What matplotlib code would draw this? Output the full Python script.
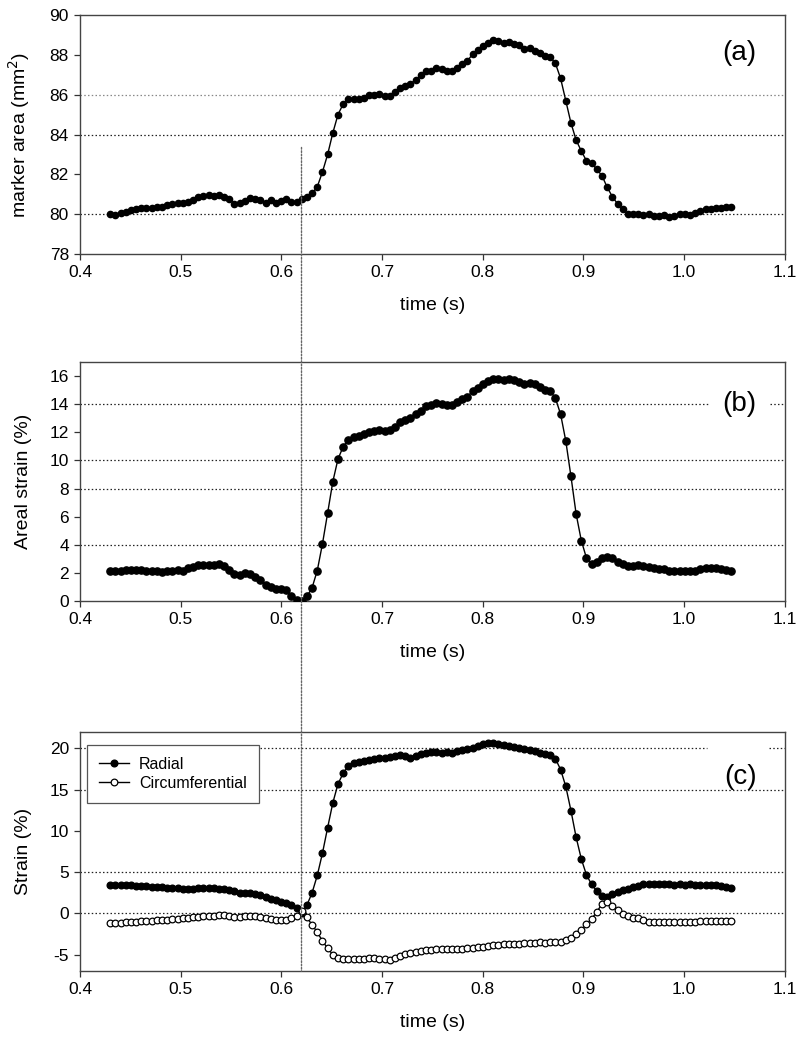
import numpy as np
import matplotlib
matplotlib.use("Agg")
import matplotlib.pyplot as plt
from matplotlib.patches import ConnectionPatch

plt.rcParams['font.family'] = ['Liberation Sans', 'DejaVu Sans']
plt.rcParams['axes.unicode_minus'] = False

# marker area (mm^2), panel (a)
area = [80.0, 79.97, 80.05, 80.1, 80.2, 80.27, 80.3, 80.33, 80.33, 80.38,
        80.37, 80.45, 80.52, 80.58, 80.55, 80.63, 80.72, 80.88, 80.9, 80.95,
        80.93, 80.97, 80.88, 80.75, 80.53, 80.57, 80.68, 80.8, 80.75, 80.73,
        80.58, 80.72, 80.58, 80.68, 80.75, 80.62, 80.63, 80.75, 80.88, 81.05,
        81.38, 82.12, 83.0, 84.08, 85.0, 85.53, 85.77, 85.8, 85.8, 85.85,
        86.0, 86.0, 86.02, 85.92, 85.93, 86.13, 86.33, 86.42, 86.55, 86.75,
        86.97, 87.2, 87.2, 87.32, 87.27, 87.2, 87.2, 87.35, 87.52, 87.7,
        88.03, 88.25, 88.43, 88.6, 88.73, 88.67, 88.6, 88.63, 88.55, 88.47,
        88.27, 88.33, 88.18, 88.1, 87.93, 87.9, 87.57, 86.82, 85.7, 84.58,
        83.72, 83.17, 82.68, 82.55, 82.25, 81.93, 81.35, 80.88, 80.52, 80.27,
        80.0, 80.02, 80.02, 79.97, 80.0, 79.92, 79.92, 79.95, 79.85, 79.93,
        80.0, 80.02, 79.98, 80.05, 80.17, 80.27, 80.27, 80.32, 80.33, 80.38, 80.38]

# areal strain (%), panel (b)
areal = [2.13, 2.15, 2.17, 2.2, 2.2, 2.22, 2.2, 2.17, 2.13, 2.13,
         2.08, 2.13, 2.15, 2.22, 2.17, 2.32, 2.39, 2.53, 2.55, 2.58,
         2.58, 2.6, 2.46, 2.22, 1.89, 1.87, 2.01, 1.89, 1.7, 1.51,
         1.13, 1.02, 0.87, 0.85, 0.76, 0.35, 0.08, 0.0, 0.33, 0.95,
         2.17, 4.07, 6.26, 8.49, 10.1, 10.97, 11.47, 11.63, 11.73, 11.87,
         12.03, 12.1, 12.15, 12.1, 12.15, 12.39, 12.7, 12.86, 13.05, 13.29,
         13.52, 13.88, 13.95, 14.11, 14.0, 13.95, 13.95, 14.16, 14.35, 14.52,
         14.94, 15.18, 15.41, 15.65, 15.82, 15.77, 15.72, 15.82, 15.72, 15.6,
         15.41, 15.53, 15.41, 15.25, 15.01, 14.94, 14.42, 13.29, 11.39, 8.87,
         6.19, 4.3, 3.05, 2.65, 2.81, 3.05, 3.12, 3.05, 2.81, 2.65,
         2.46, 2.51, 2.58, 2.51, 2.41, 2.34, 2.25, 2.29, 2.17, 2.17,
         2.17, 2.15, 2.1, 2.17, 2.27, 2.34, 2.32, 2.34, 2.27, 2.22, 2.13]

# radial / circumferential strain (%), panel (c)
radial = [3.43, 3.47, 3.45, 3.4, 3.38, 3.35, 3.3, 3.28, 3.25, 3.2,
          3.15, 3.1, 3.05, 3.05, 3.0, 2.98, 2.95, 3.05, 3.1, 3.1,
          3.08, 3.0, 2.9, 2.8, 2.65, 2.5, 2.45, 2.45, 2.35, 2.2,
          2.0, 1.8, 1.6, 1.4, 1.3, 1.0, 0.6, 0.1, 1.0, 2.5,
          4.6, 7.3, 10.4, 13.4, 15.7, 17.0, 17.9, 18.3, 18.4, 18.43,
          18.6, 18.7, 18.83, 18.9, 18.95, 19.1, 19.2, 19.07, 18.9, 19.1,
          19.3, 19.5, 19.55, 19.55, 19.5, 19.55, 19.5, 19.64, 19.8, 19.88,
          20.12, 20.32, 20.52, 20.65, 20.65, 20.52, 20.44, 20.36, 20.24, 20.12,
          19.96, 19.8, 19.64, 19.48, 19.35, 19.23, 18.75, 17.45, 15.4, 12.46,
          9.23, 6.6, 4.65, 3.5, 2.7, 2.1, 1.98, 2.38, 2.62, 2.78,
          2.98, 3.18, 3.3, 3.5, 3.59, 3.59, 3.59, 3.5, 3.5, 3.43,
          3.5, 3.43, 3.5, 3.47, 3.43, 3.47, 3.43, 3.39, 3.35, 3.23, 3.1]

circ = [-1.21, -1.17, -1.15, -1.1, -1.05, -1.0, -0.97, -0.93, -0.9, -0.85,
        -0.82, -0.78, -0.72, -0.68, -0.62, -0.55, -0.5, -0.42, -0.35, -0.3,
        -0.28, -0.25, -0.22, -0.28, -0.4, -0.48, -0.38, -0.35, -0.38, -0.45,
        -0.6, -0.72, -0.85, -0.78, -0.8, -0.6, -0.3, 0.3, -0.5, -1.4,
        -2.3, -3.35, -4.25, -5.0, -5.36, -5.48, -5.48, -5.52, -5.48, -5.48,
        -5.44, -5.44, -5.48, -5.52, -5.6, -5.36, -5.16, -4.96, -4.8, -4.68,
        -4.56, -4.48, -4.4, -4.31, -4.31, -4.31, -4.35, -4.31, -4.27, -4.19,
        -4.15, -4.11, -4.03, -3.95, -3.87, -3.79, -3.75, -3.71, -3.67, -3.67,
        -3.63, -3.59, -3.55, -3.51, -3.55, -3.51, -3.51, -3.45, -3.25, -2.95,
        -2.5, -2.0, -1.33, -0.65, 0.16, 1.17, 1.41, 0.89, 0.36, -0.04,
        -0.32, -0.52, -0.6, -0.85, -1.0, -1.05, -1.05, -1.09, -1.09, -1.09,
        -1.09, -1.05, -1.05, -1.0, -0.97, -0.93, -0.93, -0.89, -0.89, -0.89, -0.93]

# samples are evenly spaced in time
t = np.linspace(0.43, 1.047, len(area))
t_mark = 0.62

xticks = [0.4, 0.5, 0.6, 0.7, 0.8, 0.9, 1.0, 1.1]

fig = plt.figure(figsize=(8, 10.42), dpi=100)
left, width, height = 0.1, 0.881, 0.2294
ax_a = fig.add_axes([left, 0.7562, width, height])
ax_b = fig.add_axes([left, 0.4232, width, height])
ax_c = fig.add_axes([left, 0.0681, width, height])

grid_kw = dict(color='#222222', lw=0.9, ls=(0, (1.2, 1.8)), zorder=1)


def style(ax, ylim, yticks, ylabel):
    ax.set_xlim(0.4, 1.1)
    ax.set_ylim(*ylim)
    ax.set_xticks(xticks)
    ax.set_xticklabels(['%.1f' % v for v in xticks])
    ax.set_yticks(yticks)
    ax.tick_params(direction='out', length=4, width=0.9, labelsize=12.5,
                   color='#333333', pad=4)
    for s in ax.spines.values():
        s.set_color('#444444')
        s.set_linewidth(1.0)
    ax.set_xlabel('time (s)', fontsize=14, labelpad=12)
    ax.set_ylabel(ylabel, fontsize=14)
    ax.yaxis.set_label_coords(-0.068, 0.5)


# (a)
for g in [80, 84]:
    ax_a.axhline(g, **grid_kw)
ax_a.axhline(86, color='#888888', lw=0.9, ls=(0, (1.2, 1.8)), zorder=1)
ax_a.plot(t, area, '-o', color='black', lw=1.0, ms=4.5, zorder=3)
style(ax_a, (78, 90), [78, 80, 82, 84, 86, 88, 90], 'marker area (mm$^2$)')
ax_a.text(0.96, 0.84, '(a)', transform=ax_a.transAxes, fontsize=20,
          ha='right', va='center')

# (b)  - the 14 % line is broken behind the panel label
for g in [4, 8, 10]:
    ax_b.axhline(g, **grid_kw)
ax_b.axhline(14, xmax=0.894, **grid_kw)
ax_b.axhline(14, xmin=0.979, **grid_kw)
ax_b.plot(t, areal, '-o', color='black', lw=1.0, ms=5.2, zorder=3)
style(ax_b, (0, 17), [0, 2, 4, 6, 8, 10, 12, 14, 16], 'Areal strain (%)')
ax_b.text(0.96, 0.825, '(b)', transform=ax_b.transAxes, fontsize=20,
          ha='right', va='center', zorder=4)

# (c)
for g in [0, 5, 15]:
    ax_c.axhline(g, **grid_kw)
ax_c.axhline(20, xmax=0.889, **grid_kw)
ax_c.axhline(20, xmin=0.977, **grid_kw)
ax_c.plot(t, radial, '-o', color='black', lw=1.0, ms=4.8, zorder=3,
          label='Radial')
ax_c.plot(t, circ, '-o', color='black', lw=1.0, ms=4.8, mfc='white',
          mec='black', mew=0.9, zorder=3, label='Circumferential')
style(ax_c, (-7, 22), [-5, 0, 5, 10, 15, 20], 'Strain (%)')
ax_c.text(0.96, 0.81, '(c)', transform=ax_c.transAxes, fontsize=20,
          ha='right', va='center', zorder=4)
leg = ax_c.legend(loc='upper left', bbox_to_anchor=(0.01, 0.946),
                  borderaxespad=0, frameon=True, fancybox=False, framealpha=1,
                  edgecolor='#555555', handlelength=1.9, handletextpad=0.6,
                  borderpad=0.75, labelspacing=0.25, fontsize=11.5)
leg.get_frame().set_linewidth(0.9)

# vertical marker line running through all panels
con = ConnectionPatch(xyA=(t_mark, 83.35), coordsA=ax_a.transData,
                      xyB=(t_mark, -7), coordsB=ax_c.transData,
                      color='#666666', lw=1.0, ls=(0, (1.2, 1.2)), zorder=5)
fig.add_artist(con)

fig.savefig('out.png', dpi=100)
